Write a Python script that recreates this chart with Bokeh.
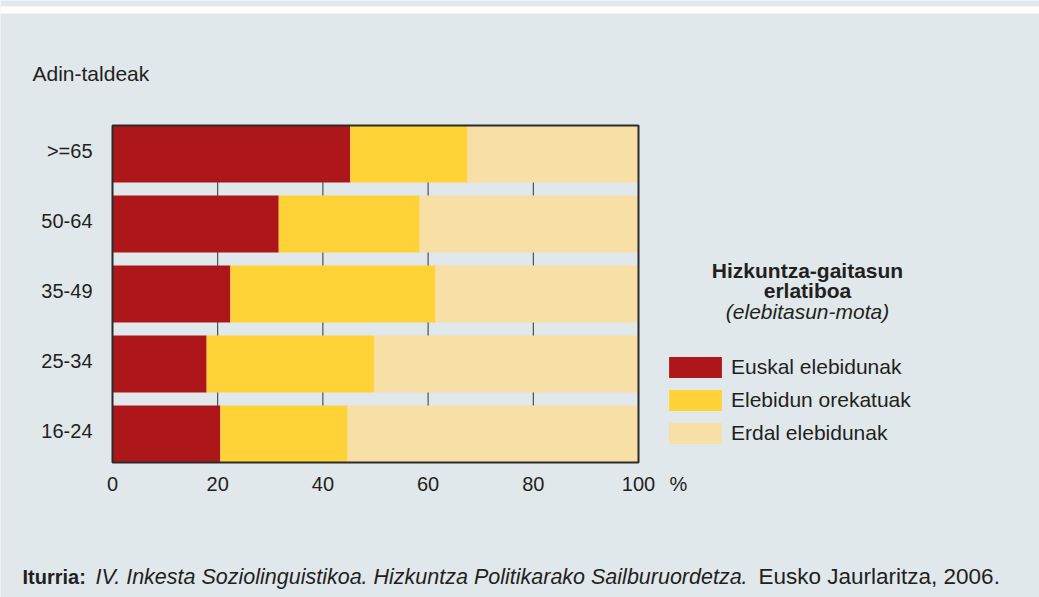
from bokeh.plotting import figure
from bokeh.models import (Range1d, Label, Legend, LegendItem,
                          ColumnDataSource, BoxAnnotation)
from bokeh.core.properties import value
from bokeh.embed import file_html
from bokeh.resources import INLINE

# ---------------- data ----------------
categories = ["16-24", "25-34", "35-49", "50-64", ">=65"]
euskal = [20.5, 17.9, 22.4, 31.6, 45.2]
orekatuak = [24.2, 31.9, 39.0, 26.8, 22.3]
erdal = [55.3, 50.2, 38.6, 41.6, 32.5]
series_names = ["Euskal elebidunak", "Elebidun orekatuak", "Erdal elebidunak"]
x_ticks = [0, 20, 40, 60, 80, 100]
grid_ticks = [20, 40, 60, 80]

# ---------------- style / layout ----------------
BG = "#E0E8EB"
TXT = "#231F20"
COLORS = ["#AE1719", "#FFD337", "#F8DFA5"]
FONT = "Liberation Sans"

W, H = 1039, 597
FL, FR, FT, FB = 112, 638, 125, 462      # plot frame edges in canvas pixels
BAR_H = 0.814
Y_LO, Y_HI = -BAR_H / 2, len(categories) - 1 + BAR_H / 2
X_PER = (FR - FL) / 100.0
Y_PER = (FB - FT) / (Y_HI - Y_LO)

ypos = list(range(len(categories)))
source = ColumnDataSource(dict(y=ypos, euskal=euskal, orekatuak=orekatuak, erdal=erdal))

# canvas-wide frame: default ranges are canvas pixels (y downwards),
# "pct"/"cat" ranges hold the chart data
p = figure(width=W, height=H, output_backend="svg", toolbar_location=None,
           x_range=Range1d(0, W), y_range=Range1d(H, 0),
           x_axis_type=None, y_axis_type=None, min_border=0)
p.extra_x_ranges = {"pct": Range1d(-FL / X_PER, (W - FL) / X_PER)}
p.extra_y_ranges = {"cat": Range1d(Y_LO - (H - FB) / Y_PER, Y_HI + FT / Y_PER)}
p.background_fill_color = BG
p.border_fill_color = BG
p.outline_line_color = None
p.xgrid.visible = False
p.ygrid.visible = False

# top white stripe
p.add_layout(BoxAnnotation(top=6, bottom=13, fill_color="white", fill_alpha=1,
                           line_color=None, level="underlay"))

# vertical grid lines (behind bars)
p.segment(x0=grid_ticks, x1=grid_ticks, y0=Y_LO, y1=Y_HI, line_color="#333333",
          line_width=1, x_range_name="pct", y_range_name="cat")

renderers = p.hbar_stack(["euskal", "orekatuak", "erdal"], y="y", height=BAR_H,
                         color=COLORS, line_color=None, source=source,
                         x_range_name="pct", y_range_name="cat")

# frame outline
p.quad(left=0, right=100, bottom=Y_LO, top=Y_HI, fill_alpha=0,
       line_color="#2B2B2B", line_width=2, x_range_name="pct", y_range_name="cat")

# x tick labels
p.text(x=x_ticks, y=[FB + 21] * len(x_ticks), text=[str(t) for t in x_ticks],
       text_align="center", text_baseline="middle", text_font=value(FONT),
       text_font_size="20px", text_color=TXT, x_range_name="pct")

# y tick labels
p.text(x=[FL - 20] * len(categories), y=ypos, text=categories, y_offset=-3,
       text_align="right", text_baseline="middle", text_font=value(FONT),
       text_font_size="20px", text_color=TXT, y_range_name="cat")


def add_label(text, x, y, size="21px", align="left", style="normal"):
    p.add_layout(Label(x=x, y=y, text=text, text_align=align, text_baseline="middle",
                       text_font=FONT, text_font_size=size, text_color=TXT,
                       text_font_style=style))


add_label("Adin-taldeak", 32, 73)
add_label("%", 669, FB + 21, size="20px")

add_label("Hizkuntza-gaitasun", 807, 270, align="center", style="bold")
add_label("erlatiboa", 807, 290, align="center", style="bold")
add_label("(elebitasun-mota)", 807, 311, align="center", style="italic")

add_label("Iturria:", 22, 576, size="20px", style="bold")
add_label("IV. Inkesta Soziolinguistikoa. Hizkuntza Politikarako Sailburuordetza.",
          95, 576, size="21.5px", style="italic")
add_label("Eusko Jaurlaritza, 2006.", 758, 576, size="22.5px")

legend = Legend(items=[LegendItem(label=n, renderers=[r]) for n, r in zip(series_names, renderers)],
                location=(662, H - 446), orientation="vertical",
                glyph_width=66, glyph_height=26, label_height=26, spacing=7,
                label_standoff=3, padding=0, margin=0,
                border_line_color=None, background_fill_alpha=0,
                label_text_font=FONT, label_text_font_size="21px",
                label_text_color=TXT)
p.add_layout(legend, "center")

open("out.html", "w").write(file_html(p, INLINE))
